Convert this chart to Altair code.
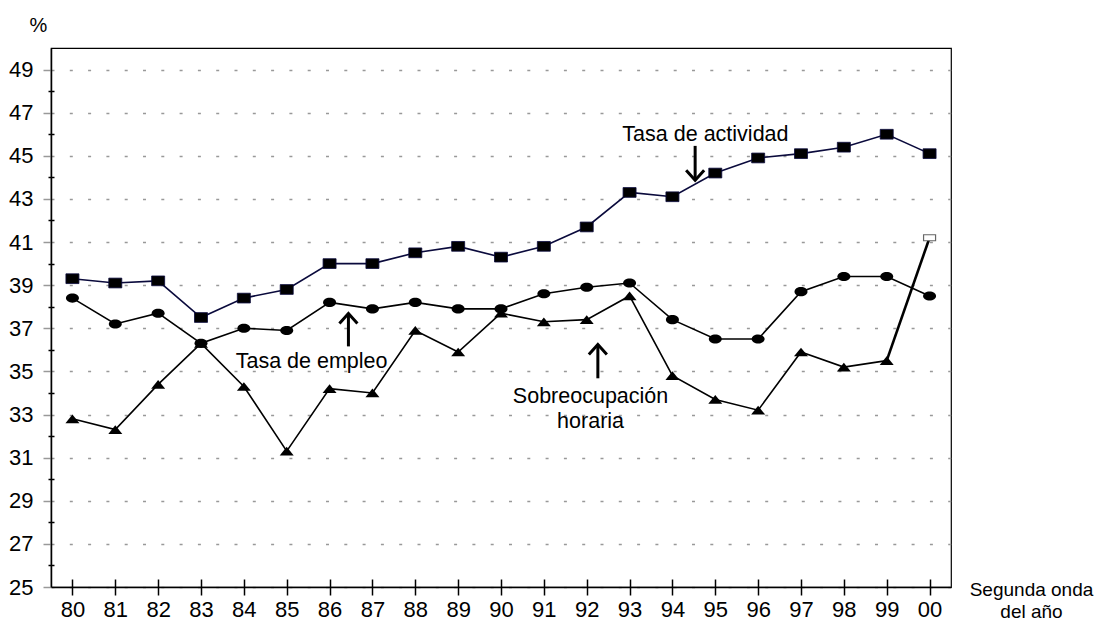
import altair as alt
import pandas as pd

# ---------------- data ----------------
years = list(range(1980, 2001))
tick_labels = ["80", "81", "82", "83", "84", "85", "86", "87", "88", "89", "90",
               "91", "92", "93", "94", "95", "96", "97", "98", "99", "00"]
actividad = [39.3, 39.1, 39.2, 37.5, 38.4, 38.8, 40.0, 40.0, 40.5, 40.8, 40.3,
             40.8, 41.7, 43.3, 43.1, 44.2, 44.9, 45.1, 45.4, 46.0, 45.1]
empleo = [38.4, 37.2, 37.7, 36.3, 37.0, 36.9, 38.2, 37.9, 38.2, 37.9, 37.9,
          38.6, 38.9, 39.1, 37.4, 36.5, 36.5, 38.7, 39.4, 39.4, 38.5]
sobreocupacion = [32.8, 32.3, 34.4, 36.3, 34.3, 31.3, 34.2, 34.0, 36.9, 35.9, 37.7,
                  37.3, 37.4, 38.5, 34.8, 33.7, 33.2, 35.9, 35.2, 35.5, 41.2]
y_major = list(range(25, 50, 2))
y_minor = list(range(26, 50, 2))

ann_text = ["Tasa de actividad", "Tasa de empleo", "Sobreocupación", "horaria"]
ann_x = [1994.77, 1985.58, 1992.09, 1992.09]
ann_y = [45.70, 35.17, 33.52, 32.36]

arrow_x = [1994.53, 1986.44, 1992.26]
arrow_tail = [45.46, 36.16, 34.68]
arrow_tip = [43.87, 37.69, 36.25]
arrow_dir = ["down", "up", "up"]

# ---------------- helpers ----------------
FONT = "Liberation Sans"
XS = alt.Scale(domain=[1979.5, 2000.5], nice=False, zero=False)
YS = alt.Scale(domain=[25, 50], nice=False, zero=False)

SQ = "M-1,-0.75H1V0.75H-1Z"
EL = "M-1,0A1,0.7,0,1,0,1,0A1,0.7,0,1,0,-1,0Z"
TR = "M0,-0.62L1,0.62L-1,0.62Z"
HSQ = "M-1,-0.5H1V0.5H-1Z"
UP = "M-0.9,1L0,0L0.9,1"
DOWN = "M-0.9,-1L0,0L0.9,-1"


def X(field="year", axis=None):
    return alt.X(f"{field}:Q", scale=XS, axis=axis)


def Y(field="value", axis=None):
    return alt.Y(f"{field}:Q", scale=YS, axis=axis)


df_act = pd.DataFrame({"year": years, "value": actividad})
df_emp = pd.DataFrame({"year": years, "value": empleo})
df_sob = pd.DataFrame({"year": years[:-1], "value": sobreocupacion[:-1]})
df_sob_last = pd.DataFrame({"year": years[-2:], "value": sobreocupacion[-2:]})
df_sob_end = pd.DataFrame({"year": years[-1:], "value": sobreocupacion[-1:]})
df_ann = pd.DataFrame({"x": ann_x, "y": ann_y, "t": ann_text})
df_arr = pd.DataFrame({"x": arrow_x, "tail": arrow_tail, "tip": arrow_tip, "dir": arrow_dir})

label_expr = "[" + ",".join(f"'{t}'" for t in tick_labels) + f"][datum.value - {years[0]}]"

x_main = alt.Axis(
    orient="bottom", values=years, labelExpr=label_expr,
    tickSize=8, tickWidth=1.5, tickColor="black",
    domainColor="black", domainWidth=1.5,
    labelFont=FONT, labelFontSize=22, labelColor="black", labelPadding=4,
    labelFlush=False, labelOverlap=False, grid=False,
    title=["Segunda onda", "del año"], titleFont=FONT, titleFontSize=19,
    titleFontWeight="normal", titleColor="black", titleAlign="center",
    titleBaseline="alphabetic", titleX=980, titleY=8, titleLineHeight=22,
)
y_main = alt.Axis(
    orient="left", values=y_major,
    tickSize=8, tickWidth=1.5, tickColor="#999999",
    domainColor="black", domainWidth=1.5,
    labelFont=FONT, labelFontSize=22, labelColor="black", labelPadding=10,
    grid=True, gridColor="#999999", gridDash=[3, 15.3], gridWidth=1.3,
    title="%", titleFont=FONT, titleFontSize=20, titleFontWeight="normal",
    titleColor="black", titleAngle=0, titleAlign="center", titleBaseline="middle",
    titleX=-13, titleY=-23,
)
y_minor_out = alt.Axis(orient="left", values=y_minor, tickSize=3, tickWidth=1.5,
                       tickColor="black", labels=False, domain=False, grid=False, title=None)
y_minor_in = alt.Axis(orient="left", values=y_minor, tickSize=3, tickWidth=1.5, offset=-3,
                      tickColor="black", labels=False, domain=False, grid=False, title=None)
x_in = alt.Axis(orient="bottom", values=years, tickSize=8, tickWidth=1.5, offset=-8,
                tickColor="black", labels=False, domain=False, grid=False, title=None)

# ---------------- layers ----------------
ax_a = alt.Chart(df_act).mark_point(opacity=0).encode(x=X(axis=x_main), y=Y(axis=y_main))
ax_b = alt.Chart(df_act).mark_point(opacity=0).encode(x=X(axis=x_in), y=Y(axis=y_minor_out))
ax_c = alt.Chart(df_act).mark_point(opacity=0).encode(x=X(), y=Y(axis=y_minor_in))

line_act = alt.Chart(df_act).mark_line(color="#0a0a3c", strokeWidth=1.6).encode(x=X(), y=Y())
pts_act = alt.Chart(df_act).mark_point(shape=SQ, size=169, filled=True, fill="black",
                                       stroke="#0a0a3c", strokeWidth=0.8, opacity=1).encode(x=X(), y=Y())

line_emp = alt.Chart(df_emp).mark_line(color="black", strokeWidth=1.6).encode(x=X(), y=Y())
pts_emp = alt.Chart(df_emp).mark_point(shape=EL, size=169, filled=True, color="black",
                                       opacity=1).encode(x=X(), y=Y())

line_sob = alt.Chart(df_sob).mark_line(color="black", strokeWidth=1.6).encode(x=X(), y=Y())
line_sob_last = alt.Chart(df_sob_last).mark_line(color="black", strokeWidth=2.6).encode(x=X(), y=Y())
pts_sob = alt.Chart(df_sob).mark_point(shape=TR, size=196, filled=True, color="black",
                                       opacity=1).encode(x=X(), y=Y())
pt_sob_end = alt.Chart(df_sob_end).mark_point(shape=HSQ, size=144, filled=True, fill="white",
                                              stroke="#666666", strokeWidth=1.2,
                                              opacity=1).encode(x=X(), y=Y())

shafts = alt.Chart(df_arr).mark_rule(color="black", strokeWidth=3).encode(
    x=X("x"), y=Y("tail"), y2=alt.Y2("tip"))
heads = alt.Chart(df_arr).mark_point(filled=False, color="black", strokeWidth=3, size=400,
                                     opacity=1).encode(
    x=X("x"), y=Y("tip"),
    shape=alt.Shape("dir:N", scale=alt.Scale(domain=["down", "up"], range=[DOWN, UP]), legend=None))
texts = alt.Chart(df_ann).mark_text(font=FONT, fontSize=21.5, baseline="alphabetic", align="center",
                                    color="black").encode(x=X("x"), y=Y("y"), text="t:N")

chart = alt.layer(
    ax_a, ax_b, ax_c,
    line_act, pts_act,
    line_emp, pts_emp,
    line_sob, line_sob_last, pts_sob, pt_sob_end,
    shafts, heads, texts,
).resolve_axis(x="independent", y="independent").properties(
    width=900, height=539,
    padding={"left": 43, "top": 40, "right": 156, "bottom": 35},
    autosize=alt.AutoSizeParams(type="none"),
    background="white",
).configure_view(stroke="black", strokeWidth=1.2)

chart.save("out.html", embed_options={"renderer": "svg", "actions": False})
